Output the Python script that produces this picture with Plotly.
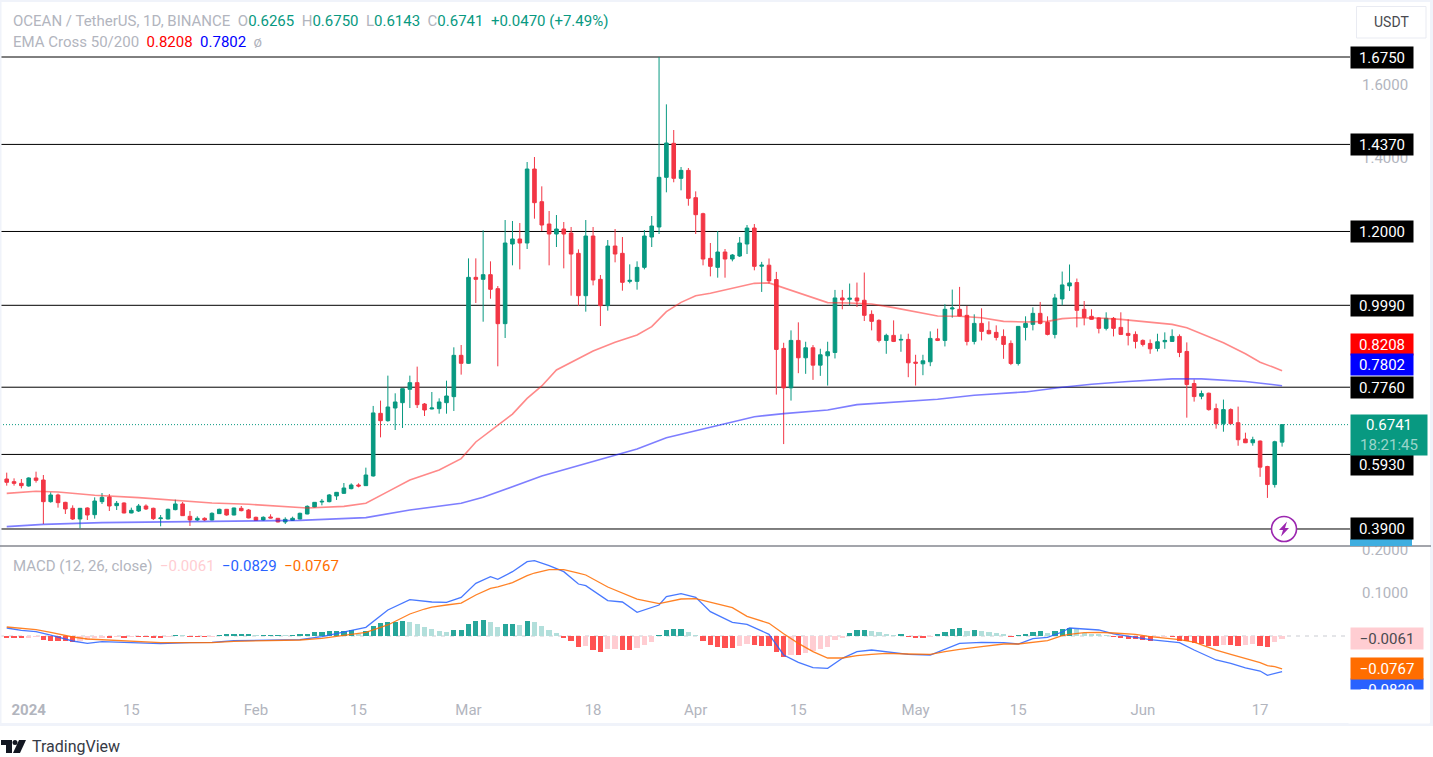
import pandas as pd
import plotly.graph_objects as go

W, H = 1433, 757

dates = pd.date_range("2023-12-29", periods=175, freq="D")

opens = [.5261,.5189,.5143,.5071,.5289,.5234,.4644,.4826,.4626,.4463,
 .4172,.4472,.4290,.4644,.4771,.4535,.4608,.4336,.4390,.4526,
 .4463,.4182,.4172,.4427,.4581,.4245,.4145,.4191,.4145,.4318,
 .4436,.4281,.4463,.4417,.4218,.4145,.4227,.4191,.4091,.4136,
 .4172,.4309,.4499,.4635,.4644,.4799,.4871,.4998,.5098,.5080,
 .5344,.7049,.6849,.7194,.7339,.7703,.7884,.7303,.7167,.7176,
 .7339,.7503,.8628,.8410,1.0751,1.0697,1.0824,1.0443,.9490,1.1659,
 1.1795,1.1686,1.3700,1.2811,1.2203,1.1931,1.2067,1.1958,1.1405,1.0252,
 1.1876,1.0697,.9980,1.1604,1.1405,1.0642,1.0642,1.1023,1.1849,1.2122,
 1.3474,1.4400,1.3447,1.3664,1.2920,1.2484,1.1268,1.1023,1.1441,1.1250,
 1.1332,1.1659,1.2094,1.1055,1.1082,1.0691,.8816,.7742,.9034,.8561,
 .8834,.8361,.8615,.8706,1.0190,1.0154,1.0190,1.0127,.9744,.9580,
 .9034,.9171,.9043,.9061,.8442,.8397,.8452,.9080,.9034,.9890,
 .9881,.9717,.9007,.9498,.9307,.9253,.9143,.8952,.8406,.9389,
 .9471,.9771,.9526,.9198,1.0163,1.0518,1.0609,.9881,.9690,.9644,
 .9362,.9635,.9389,.9225,.9198,.9034,.8952,.8816,.8998,.9007,
 .9143,.8734,.7860,.7514,.7596,.7177,.6767,.7150,.6794,.6349,
 .6248,.6294,.5602,.5110,.6265]

highs = [.5434,.5279,.5261,.5307,.5461,.5370,.4898,.4862,.4640,.4544,
 .4470,.4490,.4762,.4880,.4853,.4662,.4626,.4481,.4581,.4571,
 .4481,.4281,.4454,.4699,.4635,.4390,.4245,.4218,.4354,.4454,
 .4445,.4481,.4526,.4445,.4236,.4245,.4300,.4200,.4218,.4236,
 .4345,.4544,.4635,.4717,.4853,.4908,.5152,.5143,.5143,.5570,
 .7250,.7395,.8075,.7594,.7721,.8075,.8320,.7330,.7630,.7457,
 .7938,.8846,.8909,1.1268,1.1268,1.2031,1.1187,1.0515,1.2312,1.2285,
 1.2230,1.3891,1.4027,1.3229,1.2557,1.2448,1.2258,1.2122,1.1513,1.2312,
 1.2122,1.0815,1.1768,1.2067,1.1849,1.1105,1.1187,1.2040,1.2421,1.6750,
 1.5461,1.4762,1.3755,1.3728,1.3092,1.2510,1.1686,1.2013,1.1523,1.1386,
 1.1849,1.2176,1.2203,1.1173,1.1264,1.0900,.8970,.9307,.9526,.8998,
 .8907,.8807,.8998,1.0409,1.0409,1.0582,1.0609,1.0882,.9853,.9608,
 .9216,.9580,.9198,.9216,.8643,.8643,.9280,.9353,1.0017,1.0418,
 1.0491,.9972,.9744,.9908,.9553,.9444,.9335,.9034,.9426,.9690,
 .9935,1.0081,.9690,1.0300,1.0909,1.1101,1.0718,1.0108,.9881,.9662,
 .9799,.9671,.9799,.9608,.9280,.9061,.9061,.9216,.9253,.9335,
 .9198,.8980,.7969,.7669,.7614,.7313,.7423,.7186,.7232,.6522,
 .6412,.6310,.5620,.6303,.6750]

lows = [.5080,.5080,.5007,.5053,.5162,.4036,.4617,.4481,.4309,.4145,
 .3918,.4145,.4182,.4581,.4390,.4417,.4327,.4327,.4363,.4417,
 .4145,.3973,.4163,.4408,.4254,.3982,.4118,.4118,.4136,.4309,
 .4263,.4272,.4381,.4191,.4127,.4127,.4191,.4082,.4036,.4118,
 .4163,.4300,.4490,.4544,.4626,.4690,.4853,.4980,.5034,.5071,
 .5325,.6395,.6822,.6595,.6650,.7194,.7194,.6976,.7158,.7040,
 .7040,.7113,.8102,.8392,1.0053,.9544,1.0170,.8329,.9100,1.1078,
 1.0969,1.1523,1.2348,1.2013,1.1078,1.1577,1.0996,1.0252,.9980,.9817,
 1.0533,.9426,.9844,1.1160,1.0388,1.0588,1.0416,1.0969,1.1577,1.1931,
 1.3066,1.3339,1.3120,1.2702,1.1931,1.1078,1.0778,1.0742,1.0742,1.1187,
 1.1305,1.1386,1.0942,1.0354,1.0582,.7559,.6212,.7396,.8142,.8124,
 .7960,.8069,.7805,.8543,.9881,.9990,.9944,.9562,.9307,.8980,
 .8670,.8989,.8725,.8033,.7805,.8087,.8333,.9016,.8870,.9653,
 .9690,.8898,.8925,.9034,.9198,.9034,.8533,.8361,.8351,.9034,
 .9307,.9471,.9171,.9089,.9990,1.0381,.9389,.9444,.9599,.9225,
 .9307,.9143,.9180,.8898,.8816,.8870,.8670,.8734,.8806,.8998,
 .8579,.6931,.7368,.7432,.7122,.6631,.6549,.6758,.6167,.6239,
 .6167,.5320,.4746,.5028,.6143]

closes = [.5171,.5143,.5080,.5289,.5225,.4644,.4826,.4617,.4445,.4172,
 .4463,.4281,.4662,.4762,.4526,.4599,.4336,.4408,.4526,.4445,
 .4182,.4200,.4436,.4581,.4263,.4145,.4191,.4145,.4327,.4436,
 .4281,.4472,.4399,.4200,.4136,.4218,.4200,.4091,.4163,.4191,
 .4327,.4517,.4626,.4653,.4826,.4898,.5016,.5098,.5071,.5370,
 .7060,.6849,.7221,.7358,.7721,.7884,.7285,.7140,.7194,.7358,
 .7521,.8628,.8410,1.0751,1.0697,1.0824,1.0425,.9490,1.1686,1.1795,
 1.1686,1.3700,1.2784,1.2176,1.1931,1.2067,1.1931,1.1386,1.0252,1.1876,
 1.0678,.9980,1.1604,1.1386,1.0615,1.0669,1.1023,1.1876,1.2149,1.3474,
 1.4409,1.3447,1.3664,1.2902,1.2457,1.1250,1.1051,1.1441,1.1250,1.1359,
 1.1686,1.2094,1.1051,1.1082,1.0655,.8788,.7742,.9034,.8561,.8834,
 .8361,.8643,.8725,1.0190,1.0136,1.0181,1.0108,.9717,.9553,.9034,
 .9171,.9007,.9061,.8424,.8415,.8479,.9089,.9034,.9881,.9917,
 .9699,.9007,.9498,.9280,.9216,.9116,.8925,.8406,.9416,.9498,
 .9771,.9498,.9198,1.0190,1.0545,1.0600,.9853,.9662,.9608,.9362,
 .9635,.9362,.9198,.9171,.9007,.8925,.8806,.8998,.9034,.9143,
 .8706,.7832,.7505,.7587,.7150,.6767,.7150,.6767,.6330,.6248,
 .6330,.5584,.5110,.6276,.6741]

ema50_idx = [1,5,8,13,19,24,29,34,39,42,47,50,53,56,60,63,65,67,70,72,74,76,78,81,84,87,89,91,93,95,97,99,101,103,
 105,107,110,113,116,119,122,125,128,131,134,137,140,143,145,147,150,153,156,160,162,164,167,170,172,174,175]
ema50_val = [.4871,.4926,.4908,.4817,.4753,.4681,.4608,.4572,.4508,.4472,.4517,.4599,.4917,.5234,.5506,.5815,.6269,.6567,.7030,.7457,.7795,.8229,.8438,.8746,.8982,.9182,.9408,.9816,1.0071,1.0252,1.0316,1.0406,1.0515,1.0588,
 1.0600,1.0463,1.0254,1.0063,1.0054,1.0026,.9926,.9808,.9699,.9690,.9653,.9553,.9535,.9553,.9626,.9653,.9644,.9608,.9544,.9471,.9380,.9216,.8970,.8670,.8442,.8288,.8208]

ema200_idx = [1,6,14,23,32,41,50,56,63,66,74,82,87,91,95,98,100,103,107,113,117,122,128,133,140,145,149,154,160,164,170,175]
ema200_val = [.3964,.4027,.4073,.4100,.4127,.4136,.4209,.4417,.4599,.4763,.5342,.5805,.6077,.6386,.6580,.6730,.6820,.6958,.7041,.7141,.7286,.7350,.7432,.7541,.7632,.7760,.7842,.7914,.7987,.7987,.7914,.7802]

macd_hist = [-.0047,-.0047,-.0054,-.0031,-.0023,-.0085,-.0109,-.0116,-.0124,-.0147,
 -.0109,-.0101,-.0039,-.0031,-.0031,-.0023,-.0031,-.0016,-.0016,-.0016,
 -.0031,-.0031,-.0008,.0023,.0008,-.0016,-.0016,-.0023,-.0008,.0016,
 .0031,.0031,.0047,.0054,.0023,.0023,.0023,.0023,.0012,.0023,
 .0039,.0047,.0093,.0093,.0109,.0109,.0109,.0140,.0039,.0116,
 .0233,.0295,.0326,.0326,.0349,.0333,.0279,.0202,.0155,.0116,
 .0093,.0140,.0140,.0287,.0349,.0372,.0326,.0209,.0279,.0279,
 .0248,.0357,.0326,.0233,.0140,.0070,-.0031,-.0124,-.0248,-.0233,
 -.0318,-.0380,-.0310,-.0295,-.0318,-.0318,-.0287,-.0217,-.0147,.0008,
 .0140,.0163,.0163,.0101,.0008,-.0124,-.0217,-.0256,-.0287,-.0287,
 -.0240,-.0194,-.0217,-.0240,-.0240,-.0380,-.0496,-.0442,-.0450,-.0403,
 -.0341,-.0310,-.0264,-.0101,-.0031,.0078,.0132,.0132,.0109,.0085,
 .0047,.0023,.0031,-.0023,-.0047,-.0047,-.0016,.0031,.0101,.0155,
 .0178,.0116,.0132,.0116,.0085,.0062,.0047,-.0016,.0023,.0047,
 .0101,.0109,.0070,.0124,.0171,.0194,.0155,.0078,.0047,.0031,
 .0016,-.0016,-.0054,-.0062,-.0078,-.0093,-.0109,-.0016,-.0008,-.0008,
 -.0109,-.0124,-.0163,-.0194,-.0225,-.0240,-.0217,-.0217,-.0225,-.0217,
 -.0194,-.0225,-.0248,-.0140,-.0061]

macd_idx = [1,3,5,7,10,12,14,17,22,26,29,32,37,41,44,47,50,53,56,59,61,63,65,67,68,70,72,73,75,77,79,80,83,85,87,90,91,93,95,97,100,102,105,107,109,111,113,115,117,119,121,124,127,129,131,134,137,139,141,143,145,146,148,150,152,155,157,161,163,166,168,170,172,173,174,175]
macd_val = [.0186,.0132,.0101,.0023,-.0116,-.0171,-.0132,-.0147,-.0178,-.0155,-.0147,-.0109,-.0093,-.0085,-.0016,.0101,.0202,.0605,.0845,.0791,.0783,.0899,.1225,.1380,.1318,.1496,.1729,.1752,.1636,.1496,.1209,.1171,.0822,.0791,.0550,.0721,.0915,.0984,.0899,.0566,.0318,.0271,.0039,-.0442,-.0612,-.0736,-.0752,-.0519,-.0364,-.0326,-.0364,-.0426,-.0442,-.0310,-.0171,-.0147,-.0155,-.0186,-.0062,-.0031,.0093,.0186,.0163,.0140,.0047,-.0031,-.0085,-.0155,-.0326,-.0558,-.0636,-.0744,-.0814,-.0915,-.0876,-.0829]

signal_idx = [1,3,5,7,10,12,14,17,22,26,29,32,37,41,44,47,50,53,56,58,59,61,63,65,67,68,70,72,73,75,77,79,80,83,85,87,90,91,93,95,97,100,102,105,107,109,111,113,115,117,119,121,124,127,129,131,134,137,139,141,143,145,146,148,150,152,155,157,161,163,166,168,170,172,173,174,175]
signal_val = [.0209,.0171,.0147,.0085,-.0023,-.0070,-.0085,-.0116,-.0155,-.0155,-.0155,-.0124,-.0101,-.0093,-.0054,.0016,.0085,.0256,.0512,.0628,.0674,.0721,.0767,.0953,.1109,.1140,.1240,.1403,.1465,.1543,.1543,.1465,.1419,.1140,.1008,.0860,.0752,.0783,.0860,.0868,.0791,.0659,.0457,.0295,.0054,-.0171,-.0364,-.0512,-.0512,-.0457,-.0426,-.0403,-.0419,-.0426,-.0364,-.0310,-.0248,-.0186,-.0186,-.0147,-.0109,.0008,.0039,.0078,.0085,.0070,.0039,-.0016,-.0085,-.0140,-.0326,-.0426,-.0519,-.0620,-.0690,-.0713,-.0767]

level_vals = [1.675, 1.437, 1.2, .999, .776, .593, .39]
level_shift = [0, 0, 0, 0, 0, -10, 0]
time_tickvals = ["2024-01-01","2024-01-15","2024-02-01","2024-02-15","2024-03-01","2024-03-18","2024-04-01","2024-04-15","2024-05-01","2024-05-15","2024-06-01","2024-06-17"]
time_ticktext = ["<b>2024</b>","15","Feb","15","Mar","18","Apr","15","May","15","Jun","17"]

GREEN, RED = "#089981", "#f23645"
GREY = "#b2b5be"
FONT = "Roboto"

def px(x): return x / W
def py(y): return 1 - y / H

def sel(idx): return [dates[i - 1] for i in idx]

hist_colors = []
for k, v in enumerate(macd_hist):
    prev = macd_hist[k - 1] if k else v
    if v >= 0:
        hist_colors.append("#26a69a" if v >= prev else "#b2dfdb")
    else:
        hist_colors.append("#ff5252" if v <= prev else "#ffcdd2")

fig = go.Figure()
fig.add_trace(go.Candlestick(
    x=dates, open=opens, high=highs, low=lows, close=closes, xaxis="x", yaxis="y",
    increasing=dict(line=dict(color=GREEN, width=1), fillcolor=GREEN),
    decreasing=dict(line=dict(color=RED, width=1), fillcolor=RED),
    whiskerwidth=0, showlegend=False))
fig.add_trace(go.Scatter(x=sel(ema50_idx), y=ema50_val, mode="lines", xaxis="x", yaxis="y",
                         line=dict(color="rgba(255,40,40,0.55)", width=1.6), showlegend=False))
fig.add_trace(go.Scatter(x=sel(ema200_idx), y=ema200_val, mode="lines", xaxis="x", yaxis="y",
                         line=dict(color="rgba(40,40,255,0.6)", width=1.6), showlegend=False))
fig.add_trace(go.Bar(x=dates, y=macd_hist, marker=dict(color=hist_colors, line=dict(width=0)),
                     width=62000000, xaxis="x2", yaxis="y2", showlegend=False))
fig.add_trace(go.Scatter(x=sel(macd_idx), y=macd_val, mode="lines", xaxis="x2", yaxis="y2",
                         line=dict(color="#2962ff", width=1.3), opacity=.85, showlegend=False))
fig.add_trace(go.Scatter(x=sel(signal_idx), y=signal_val, mode="lines", xaxis="x2", yaxis="y2",
                         line=dict(color="#ff6d00", width=1.3), opacity=.85, showlegend=False))

shapes = []
def rect(x0, y0, x1, y1, fill, line=None, layer="above"):
    shapes.append(dict(type="rect", xref="paper", yref="paper", x0=px(x0), x1=px(x1), y0=py(y0), y1=py(y1),
                       fillcolor=fill, line=dict(color=line or fill, width=1 if line else 0), layer=layer))
def poly(points, fill):
    d = "M " + " L ".join(f"{px(a):.5f},{py(b):.5f}" for a, b in points) + " Z"
    shapes.append(dict(type="path", xref="paper", yref="paper", path=d, fillcolor=fill, line=dict(width=0), layer="above"))

# page frame
for box in [(0, 0, W, 2), (0, 0, 1.5, 726), (1430, 0, W, 726), (0, 723, W, 726)]:
    rect(*box, "#f0f3fa")

# horizontal levels
for v in level_vals:
    shapes.append(dict(type="line", xref="paper", yref="y", x0=0, x1=px(1350), y0=v, y1=v,
                       line=dict(color="#000000", width=1), layer="below"))
shapes.append(dict(type="line", xref="paper", yref="y", x0=0, x1=px(1350), y0=closes[-1], y1=closes[-1],
                   line=dict(color=GREEN, width=1, dash="1px,2px"), layer="below"))
shapes.append(dict(type="line", xref="paper", yref="y2", x0=0, x1=px(1350), y0=0, y1=0,
                   line=dict(color="#c9cbd1", width=1, dash="4px,5px"), layer="below"))
# pane separator
shapes.append(dict(type="line", xref="paper", yref="paper", x0=0, x1=px(1431), y0=py(546), y1=py(546),
                   line=dict(color="#85878f", width=1.5), layer="above"))
# hidden axis tag under 0.39
rect(1350, 539, 1412, 546, "#3eaee0")
# lightning badge
shapes.append(dict(type="circle", xref="paper", yref="paper", x0=px(1271.5), x1=px(1296.5), y0=py(541.5), y1=py(516.5),
                   fillcolor="#ffffff", line=dict(color="#9c27b0", width=1.6), layer="above"))
poly([(1287, 521.5), (1279, 530), (1283, 530), (1281, 536.5), (1289, 528), (1285, 528)], "#9c27b0")
# USDT button
rect(1356.5, 6.5, 1426, 38, "#ffffff", "#e9ebf2")
# TradingView logo
poly([(1, 740), (12, 740), (12, 753), (6, 753), (6, 745), (1, 745)], "#131722")
poly([(19, 740), (26, 740), (20, 753), (13, 753)], "#131722")
shapes.append(dict(type="circle", xref="paper", yref="paper", x0=px(12.5), x1=px(17.5), y0=py(745), y1=py(740),
                   fillcolor="#131722", line=dict(width=0), layer="above"))

ann = []
def tag(text, yval, yref="y", shift=0, bg="#000", color="#fff", w=62, h=21, x=1350):
    ann.append(dict(text=text, xref="paper", yref=yref, x=px(x), y=yval, xanchor="left", yanchor="middle",
                    yshift=shift, showarrow=False, width=w, height=h, bgcolor=bg, borderpad=0,
                    font=dict(family=FONT, size=15, color=color), align="center", valign="middle"))
def label(text, x, y, size=15, color=GREY, anchor="left"):
    ann.append(dict(text=text, xref="paper", yref="paper", x=px(x), y=py(y), xanchor=anchor, yanchor="middle",
                    showarrow=False, font=dict(family=FONT, size=size, color=color), align="left"))

tag("0.8208", ema50_val[-1], shift=26, bg="#ff0000")
tag("0.7802", ema200_val[-1], shift=21, bg="#0000ff")
for v, s in zip(level_vals, level_shift):
    tag(f"{v:.4f}", v, shift=s)
ann.append(dict(text="0.6741<br><span style='color:rgba(255,255,255,.6)'>18:21:45</span>", xref="paper", yref="y",
                x=px(1350), y=closes[-1], yshift=-10, xanchor="left", yanchor="middle", showarrow=False,
                width=76, height=40, bgcolor=GREEN, borderpad=0, align="center",
                font=dict(family=FONT, size=15, color="#ffffff")))
tag("\u22120.0061", macd_hist[-1], yref="y2", shift=0, bg="#ffcdd2", color="#4a4a50", w=72, h=21)
tag("\u22120.0829", macd_val[-1], yref="y2", shift=-18, bg="#2962ff", w=72, h=21)
tag("\u22120.0767", signal_val[-1], yref="y2", bg="#ff6d00", w=72, h=21)
# cover that clips the lowest tag at the bottom of the pane
ann.append(dict(text=" ", xref="paper", yref="paper", x=px(1348), y=py(689), xanchor="left", yanchor="top",
                showarrow=False, width=80, height=33, bgcolor="#ffffff", borderpad=0))

label(f"OCEAN / TetherUS, 1D, BINANCE  O<span style='color:{GREEN}'>0.6265</span>  H<span style='color:{GREEN}'>0.6750</span>"
      f"  L<span style='color:{GREEN}'>0.6143</span>  C<span style='color:{GREEN}'>0.6741</span>"
      f"  <span style='color:{GREEN}'>+0.0470 (+7.49%)</span>", 11, 21)
label("EMA Cross 50/200  <span style='color:#ff0000'>0.8208</span>  <span style='color:#0000ff'>0.7802</span>  \u00f8", 11, 42)
label("MACD (12, 26, close)  <span style='color:#ffcdd2'>\u22120.0061</span>  <span style='color:#2962ff'>\u22120.0829</span>"
      "  <span style='color:#ff6d00'>\u22120.0767</span>", 11, 566)
label("USDT", 1391, 22, size=14, color="#4a4a50", anchor="center")
label("TradingView", 30, 746, size=16, color="#363a45")

xrange = ["2023-12-28 02:00", "2024-06-28 14:00"]
fig.update_layout(
    width=W, height=H, margin=dict(l=0, r=0, t=0, b=0), paper_bgcolor="#ffffff", plot_bgcolor="#ffffff",
    showlegend=False, bargap=0, boxgap=.3, dragmode=False, hovermode=False,
    font=dict(family=FONT, size=14, color=GREY),
    xaxis=dict(domain=[0, px(1345)], range=xrange, type="date", anchor="y", rangeslider=dict(visible=False), automargin=False,
               showticklabels=False, showgrid=False, zeroline=False, ticks=""),
    xaxis2=dict(domain=[0, px(1345)], range=xrange, type="date", anchor="y2", matches="x", automargin=False,
                tickmode="array", tickvals=time_tickvals, ticktext=time_ticktext, showgrid=False, zeroline=False,
                ticks="outside", ticklen=6, tickcolor="rgba(0,0,0,0)", showline=False,
                tickfont=dict(family=FONT, size=15, color=GREY)),
    yaxis=dict(domain=[py(546), 1], range=[.3437, 1.8302], side="right", anchor="x", showgrid=False, zeroline=False, automargin=False,
               tickmode="array", tickvals=[1.4, 1.6], tickformat=".4f", ticks="", ticklabelstandoff=16,
               tickfont=dict(family=FONT, size=15, color=GREY)),
    yaxis2=dict(domain=[py(690), py(547)], range=[-.1256, .207], side="right", anchor="x2", showgrid=False, zeroline=False, automargin=False,
                tickmode="array", tickvals=[.1, .2], tickformat=".4f", ticks="", ticklabelstandoff=16,
                tickfont=dict(family=FONT, size=15, color=GREY)),
    shapes=shapes, annotations=ann)

fig.write_html("out.html", config=dict(displayModeBar=False),
               post_script="document.body.style.margin='0';document.body.style.overflow='hidden';")
